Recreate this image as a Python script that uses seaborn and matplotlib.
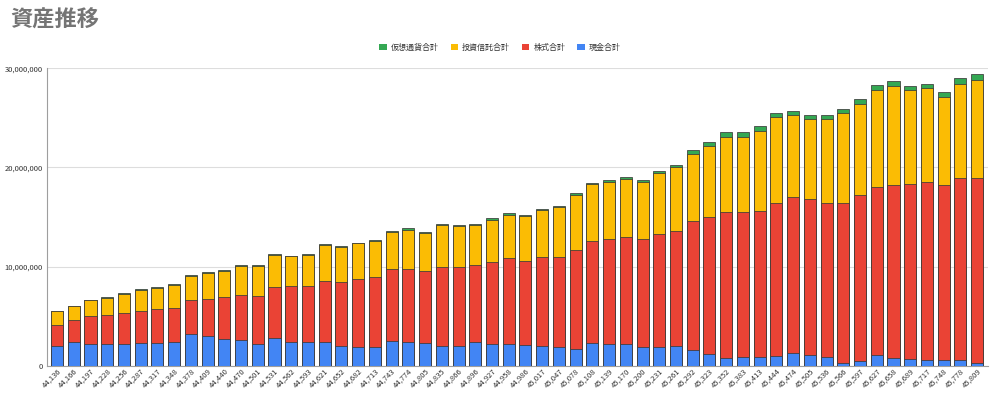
import matplotlib
matplotlib.use("Agg")
import matplotlib.pyplot as plt
from matplotlib.patches import Patch
from matplotlib.ticker import FuncFormatter
import seaborn as sns
import pandas as pd
import numpy as np

# month serials (spreadsheet date numbers) used as x labels
dates = [44136, 44166, 44197, 44228, 44256, 44287, 44317, 44348, 44378, 44409,
         44440, 44470, 44501, 44531, 44562, 44593, 44621, 44652, 44682, 44713,
         44743, 44774, 44805, 44835, 44866, 44896, 44927, 44958, 44986, 45017,
         45047, 45078, 45108, 45139, 45170, 45200, 45231, 45261, 45292, 45323,
         45352, 45383, 45413, 45444, 45474, 45505, 45536, 45566, 45597, 45627,
         45658, 45689, 45717, 45748, 45778, 45809]

# values in millions of yen
cash = [2.0, 2.4, 2.25, 2.2, 2.2, 2.3, 2.35, 2.4, 3.2, 3.0,
        2.7, 2.6, 2.25, 2.8, 2.45, 2.4, 2.4, 2.0, 1.9, 1.9,
        2.55, 2.4, 2.3, 2.0, 2.0, 2.4, 2.25, 2.2, 2.1, 2.05,
        1.95, 1.7, 2.35, 2.2, 2.2, 1.95, 1.9, 2.05, 1.6, 1.2,
        0.85, 0.9, 0.9, 1.05, 1.35, 1.1, 0.95, 0.27, 0.5, 1.07,
        0.8, 0.67, 0.6, 0.6, 0.6, 0.27]
stock = [2.1, 2.2, 2.75, 2.9, 3.1, 3.2, 3.35, 3.45, 3.45, 3.8,
         4.3, 4.55, 4.85, 5.2, 5.6, 5.7, 6.2, 6.45, 6.9, 7.1,
         7.2, 7.4, 7.25, 8.0, 8.0, 7.8, 8.25, 8.65, 8.5, 8.95,
         9.05, 10.0, 10.25, 10.55, 10.75, 10.85, 11.4, 11.55, 13.05, 13.8,
         14.7, 14.65, 14.75, 15.35, 15.7, 15.7, 15.45, 16.13, 16.7, 16.93,
         17.4, 17.63, 17.9, 17.6, 18.3, 18.63]
trust = [1.4, 1.4, 1.6, 1.8, 1.95, 2.15, 2.2, 2.35, 2.45, 2.55,
         2.6, 2.9, 2.95, 3.2, 3.0, 3.1, 3.6, 3.55, 3.55, 3.6,
         3.75, 3.95, 3.85, 4.2, 4.1, 4.0, 4.25, 4.4, 4.5, 4.7,
         5.0, 5.55, 5.7, 5.8, 5.85, 5.7, 6.15, 6.4, 6.75, 7.2,
         7.55, 7.55, 8.05, 8.65, 8.2, 8.1, 8.45, 9.05, 9.2, 9.85,
         10.0, 9.5, 9.5, 8.85, 9.55, 9.95]
crypto = [0.05, 0.05, 0.05, 0.06, 0.06, 0.06, 0.07, 0.07, 0.08, 0.08,
          0.08, 0.08, 0.08, 0.09, 0.08, 0.08, 0.09, 0.08, 0.08, 0.09,
          0.12, 0.12, 0.12, 0.12, 0.12, 0.13, 0.13, 0.14, 0.14, 0.15,
          0.16, 0.17, 0.18, 0.18, 0.2, 0.2, 0.22, 0.25, 0.35, 0.4,
          0.45, 0.5, 0.45, 0.4, 0.45, 0.4, 0.4, 0.45, 0.5, 0.5,
          0.5, 0.45, 0.45, 0.5, 0.55, 0.55]

names = ["仮想通貨合計", "投資信託合計", "株式合計", "現金合計"]
colors = ["#34A853", "#FBBC04", "#EA4335", "#4285F4"]

df = pd.DataFrame({
    "date": [f"{d:,}" for d in dates],
    "cash": np.array(cash) * 1e6,
    "stock": np.array(stock) * 1e6,
    "trust": np.array(trust) * 1e6,
    "crypto": np.array(crypto) * 1e6,
})
# cumulative tops, drawn tallest first so each layer covers the one above
df["lvl3"] = df["cash"]
df["lvl2"] = df["lvl3"] + df["stock"]
df["lvl1"] = df["lvl2"] + df["trust"]
df["lvl0"] = df["lvl1"] + df["crypto"]

sns.set_style("white")
plt.rcParams["font.family"] = ["Noto Sans CJK JP", "DejaVu Sans"]

fig = plt.figure(figsize=(10, 3.94), dpi=100)
ax = fig.add_axes([0.047, 0.071, 0.941, 0.756])

for lvl, c in zip(["lvl0", "lvl1", "lvl2", "lvl3"], colors):
    sns.barplot(data=df, x="date", y=lvl, color=c, saturation=1,
                width=0.72, edgecolor="#3a3a3a", linewidth=0.55, ax=ax, zorder=3)

ax.set_ylim(0, 30e6)
ax.set_xlim(-0.6, len(dates) - 0.35)
ax.set_yticks([0, 10e6, 20e6, 30e6])
ax.yaxis.set_major_formatter(FuncFormatter(lambda v, p: f"{int(v):,}"))
ax.grid(axis="y", color="#dddddd", linewidth=0.8, zorder=0)
ax.set_xlabel("")
ax.set_ylabel("")
for s in ["top", "right"]:
    ax.spines[s].set_visible(False)
ax.spines["left"].set_color("#9e9e9e")
ax.spines["bottom"].set_color("#9e9e9e")
ax.tick_params(axis="y", labelsize=5.5, colors="#333333", length=0, pad=3)
ax.tick_params(axis="x", labelsize=5.5, colors="#333333", length=0, pad=1)
plt.setp(ax.get_xticklabels(), rotation=45, ha="right", rotation_mode="anchor")

fig.text(0.01, 0.948, "資産推移", fontsize=16, fontweight="bold",
         color="#757575", ha="left", va="center")

handles = [Patch(facecolor=c, edgecolor="none") for c in colors]
fig.legend(handles, names, loc="center", bbox_to_anchor=(0.5, 0.88), ncol=4,
           frameon=False, fontsize=5.8, handlelength=0.9, handleheight=0.9,
           handletextpad=0.5, columnspacing=1.5, labelcolor="#333333")

fig.savefig("out.png", dpi=100)
